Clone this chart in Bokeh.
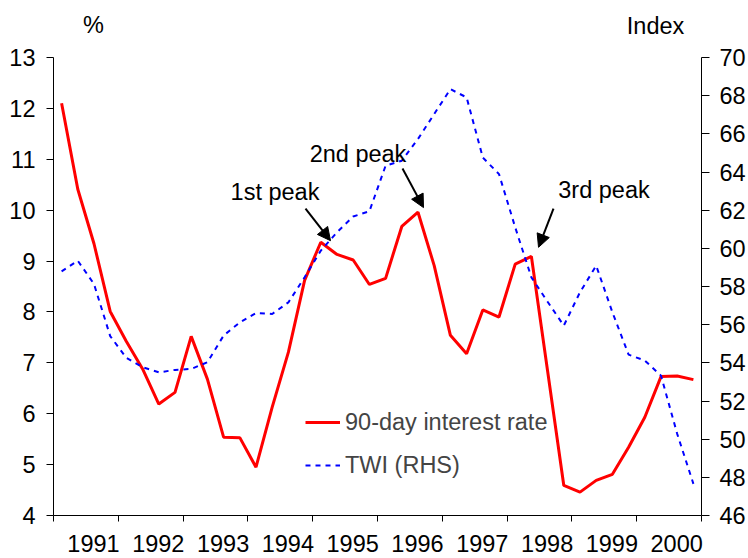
from bokeh.plotting import figure
from bokeh.layouts import column
from bokeh.models import (Range1d, LinearAxis, FixedTicker, Legend, LegendItem,
                          Label, Arrow, NormalHead, ColumnDataSource)
from bokeh.core.properties import value
from bokeh.embed import file_html
from bokeh.resources import INLINE

FONT = "Liberation Sans"
FS = "23.5px"

# ---- data (quarterly, 1991Q1 - 2000Q4) ----
years = list(range(1991, 2001))
quarters = [1, 2, 3, 4]
rate = [12.10, 10.41, 9.34, 8.01,
        7.42, 6.88, 6.19, 6.42,
        7.52, 6.68, 5.54, 5.53,
        4.95, 6.13, 7.21, 8.62,
        9.37, 9.13, 9.02, 8.54,
        8.66, 9.68, 9.96, 8.91,
        7.54, 7.18, 8.04, 7.90,
        8.94, 9.09, 6.84, 4.59,
        4.46, 4.69, 4.81, 5.34,
        5.93, 6.73, 6.74, 6.67]
twi = [58.79, 59.35, 58.13, 55.40,
       54.26, 53.77, 53.50, 53.63,
       53.68, 54.03, 55.43, 56.12,
       56.61, 56.56, 57.17, 58.48,
       59.88, 60.84, 61.67, 61.94,
       64.33, 64.59, 65.73, 67.04,
       68.34, 67.91, 64.76, 63.89,
       61.10, 58.48, 57.20, 55.95,
       57.70, 59.09, 56.65, 54.43,
       54.12, 53.33, 50.28, 47.66]
left_ticks = list(range(4, 14))
right_ticks = list(range(46, 71, 2))
year_labels = [str(y) for y in years]
peak_labels = ["1st peak", "2nd peak", "3rd peak"]
unit_labels = ["%", "Index"]

x = [y + (q - 0.5) / 4 for y in years for q in quarters]
src = ColumnDataSource(dict(x=x, rate=rate, twi=twi))

W = 748
HEAD_H = 40

# ---- header strip holding the axis-unit captions ----
head = figure(width=W, height=HEAD_H, output_backend="svg", toolbar_location=None,
              x_range=Range1d(0, W), y_range=Range1d(HEAD_H, 0),
              x_axis_location=None, y_axis_location=None, min_border=0)
head.outline_line_color = None
head.grid.visible = False
head.background_fill_color = "white"
head.border_fill_color = "white"
head.text(x=[46, 695], y=[24, 25], text=unit_labels, text_align="center",
          text_baseline="middle", text_font=value(FONT), text_font_size=value(FS),
          text_color="black")

# ---- main chart ----
p = figure(width=W, height=558 - HEAD_H, output_backend="svg", toolbar_location=None,
           x_range=Range1d(years[0], years[-1] + 1), y_range=Range1d(4, 13))
p.extra_y_ranges = {"twi": Range1d(46, 70)}
p.min_border_top = 57 - HEAD_H
p.min_border_left = 53
p.min_border_right = 47
p.min_border_bottom = 43
p.outline_line_color = None
p.xgrid.grid_line_color = None
p.ygrid.grid_line_color = None
p.background_fill_color = "white"
p.border_fill_color = "white"

# x axis: year boundaries as tick marks, labels ending at each year's end
xa = p.xaxis[0]
label_pos = [y + 0.617 for y in years]
xa.ticker = FixedTicker(ticks=label_pos, minor_ticks=years + [years[-1] + 1])
xa.major_label_overrides = {pos: lab for pos, lab in zip(label_pos, year_labels)}
xa.major_tick_line_color = None
xa.major_tick_out = 6
xa.major_tick_in = 0
xa.minor_tick_line_color = "black"
xa.minor_tick_out = 6
xa.minor_tick_in = 0
xa.major_label_standoff = 13

ya = p.yaxis[0]
ya.ticker = FixedTicker(ticks=left_ticks)
ya.major_tick_out = 7
ya.major_tick_in = 0
ya.minor_tick_line_color = None
ya.major_label_standoff = 11

ra = LinearAxis(y_range_name="twi", ticker=FixedTicker(ticks=right_ticks))
ra.major_tick_out = 8
ra.major_tick_in = 0
ra.minor_tick_line_color = None
ra.major_label_standoff = 10
p.add_layout(ra, "right")

for ax in (xa, ya, ra):
    ax.axis_line_color = "black"
    ax.major_label_text_font = FONT
    ax.major_label_text_font_size = FS
    ax.major_label_text_color = "black"
    if ax is not xa:
        ax.major_tick_line_color = "black"

r1 = p.line("x", "rate", source=src, line_color="#FF0000", line_width=3)
r2 = p.line("x", "twi", source=src, y_range_name="twi", line_color="#0000FF",
            line_width=2, line_dash="5 5")

legend = Legend(items=[LegendItem(label="90-day interest rate", renderers=[r1]),
                       LegendItem(label="TWI (RHS)", renderers=[r2])],
                location=(252, 35), border_line_color=None, background_fill_alpha=0,
                padding=0, margin=0, spacing=13, glyph_width=35, glyph_height=30,
                label_height=30, label_standoff=5,
                label_text_font=FONT, label_text_font_size=FS)
p.add_layout(legend)

# peak annotations
text_pos = [(1994.418, 10.35), (1995.699, 11.11), (1999.495, 10.39)]
arrows = [((1994.889, 10.03), (1995.275, 9.40)),
          ((1996.386, 10.82), (1996.710, 10.05)),
          ((1998.716, 10.03), (1998.485, 9.27))]
for lab, (tx, ty), ((xs, ys), (xe, ye)) in zip(peak_labels, text_pos, arrows):
    p.add_layout(Label(x=tx, y=ty, text=lab, text_align="center", text_baseline="middle",
                       text_font=FONT, text_font_size=FS, text_color="black"))
    p.add_layout(Arrow(x_start=xs, y_start=ys, x_end=xe, y_end=ye, line_width=2,
                       line_color="black",
                       end=NormalHead(size=13, fill_color="black", line_color="black")))

layout = column(head, p, spacing=0)
open("out.html", "w").write(file_html(layout, INLINE))
